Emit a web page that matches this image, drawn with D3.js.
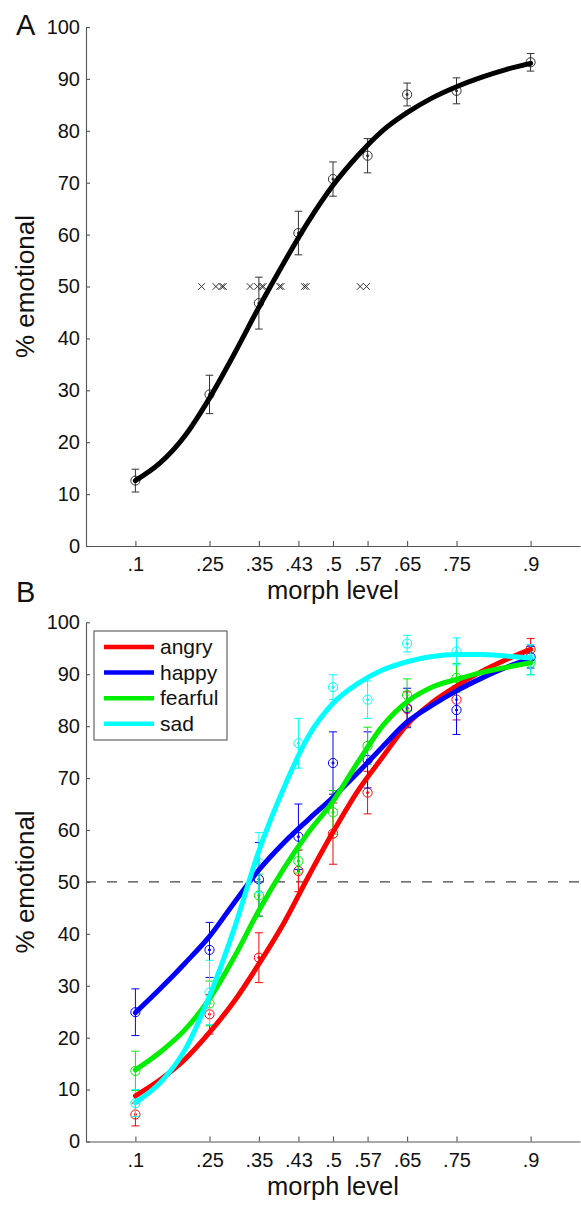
<!DOCTYPE html>
<html>
<head>
<meta charset="utf-8">
<script src="https://cdn.jsdelivr.net/npm/d3@7"></script>
<style>
  body { margin: 0; background: #fff; }
  text { font-family: "Liberation Sans", Arial, Helvetica, sans-serif; fill: #111; }
  .axis path, .axis line { stroke: #555; stroke-width: 1.1; }
  .axis text { font-size: 20px; fill: #111; }
</style>
</head>
<body>
<svg id="chart" width="581" height="1205"></svg>
<script>
// morph levels and tick labels
var levels = [0.1, 0.25, 0.35, 0.43, 0.5, 0.57, 0.65, 0.75, 0.9];
var levelLabels = ['.1', '.25', '.35', '.43', '.5', '.57', '.65', '.75', '.9'];
var yTicks = [0, 10, 20, 30, 40, 50, 60, 70, 80, 90, 100];

// panel A: all emotions pooled
var allMean = [12.6, 29.2, 46.8, 60.3, 70.7, 75.2, 87.0, 87.7, 93.2];
var allErr = [2.2, 3.7, 5.0, 4.2, 3.3, 3.3, 2.2, 2.5, 1.7];
// individual 50% thresholds (crosses)
var thresholds = [0.234, 0.263, 0.275, 0.278, 0.332, 0.347, 0.356, 0.359,
  0.392, 0.395, 0.442, 0.446, 0.555, 0.568];

// fitted curves, sampled at fitX
var fitX = [0.1, 0.15, 0.2, 0.25, 0.3, 0.35, 0.4, 0.45, 0.5, 0.55, 0.6,
  0.65, 0.7, 0.75, 0.8, 0.85, 0.9];
var allFit = [12.6, 16.0, 21.2, 28.5, 37, 46, 54.5, 62.5, 69.5, 75.2, 80,
  83.5, 86.3, 88.5, 90.3, 91.8, 93.0];

// panel B: per emotion
var emotions = ['angry', 'happy', 'fearful', 'sad'];
var emotionColors = ['#ff0000', '#0000ff', '#00ee00', '#00ffff'];

var angryMean = [5.2, 24.5, 35.4, 52.1, 59.3, 67.2, 83.3, 85.1, 94.8];
var angryErr = [2.2, 3.8, 4.8, 4.0, 5.9, 4.1, 3.3, 3.9, 2.1];
var happyMean = [24.9, 36.9, 50.5, 58.7, 72.9, 73.5, 83.5, 83.1, 93.3];
var happyErr = [4.5, 5.3, 7.1, 6.3, 6.0, 5.4, 3.8, 4.7, 2.1];
var fearfulMean = [13.6, 26.6, 47.4, 54.0, 63.4, 76.2, 86.0, 89.3, 92.2];
var fearfulErr = [3.8, 4.3, 4.1, 2.3, 4.2, 3.6, 3.1, 2.8, 2.3];
var sadMean = [7.4, 28.7, 53.7, 76.7, 87.5, 85.1, 95.9, 94.4, 92.8];
var sadErr = [2.6, 6.2, 5.8, 4.8, 2.4, 3.6, 1.6, 2.6, 2.9];

var angryFit = [8.8, 11.9, 15.8, 21.0, 27, 34.2, 42, 51, 59.6, 67.5, 74,
  80.3, 84.5, 87.7, 90.5, 92.8, 94.8];
var happyFit = [24.8, 29.4, 34.3, 39.5, 46, 52.3, 57.5, 62, 66.3, 71, 76,
  80.8, 84, 86.8, 89.2, 91.3, 93.0];
var fearfulFit = [13.8, 17.2, 21.5, 27.5, 35.5, 44.5, 52.5, 59.5, 65.5, 73, 80,
  84.7, 87.5, 89, 90.3, 91.3, 92.2];
var sadFit = [7.5, 11.3, 17.6, 28, 41, 56, 68, 78, 84.4, 88.2, 90.8,
  92.4, 93.4, 93.8, 93.8, 93.5, 93.1];

var emoMeans = [angryMean, happyMean, fearfulMean, sadMean];
var emoErrs = [angryErr, happyErr, fearfulErr, sadErr];
var emoFits = [angryFit, happyFit, fearfulFit, sadFit];

var svg = d3.select('#chart');

var x = d3.scaleLinear().domain([0, 1]).range([86, 580]);

function drawAxes(y, letter, letterY) {
  var g = svg.append('g');

  g.append('g')
    .attr('class', 'axis')
    .attr('transform', 'translate(' + x(0) + ',0)')
    .call(d3.axisLeft(y).tickValues(yTicks).tickSizeInner(-4).tickSizeOuter(0).tickPadding(6));

  g.append('g')
    .attr('class', 'axis')
    .attr('transform', 'translate(0,' + y(0) + ')')
    .call(d3.axisBottom(x)
      .tickValues(levels)
      .tickFormat(function(d, i) { return levelLabels[i]; })
      .tickSizeInner(-5).tickSizeOuter(0).tickPadding(11));

  g.append('text')
    .attr('transform', 'translate(34,' + (y(0) + y(100)) / 2 + ') rotate(-90)')
    .attr('text-anchor', 'middle')
    .style('font-size', '26px')
    .text('% emotional');

  g.append('text')
    .attr('x', (x(0) + x(1)) / 2)
    .attr('y', y(0) + 53)
    .attr('text-anchor', 'middle')
    .style('font-size', '25.5px')
    .text('morph level');

  g.append('text')
    .attr('x', 16)
    .attr('y', letterY)
    .style('font-size', '29px')
    .text(letter);
  return g;
}

function drawPoints(g, y, means, errs, color, cap) {
  var pts = g.append('g').attr('stroke', color).attr('fill', 'none').attr('stroke-width', 1);
  levels.forEach(function(m, i) {
    var cx = x(m), lo = y(means[i] - errs[i]), hi = y(means[i] + errs[i]);
    pts.append('line').attr('x1', cx).attr('x2', cx).attr('y1', lo).attr('y2', hi);
    pts.append('line').attr('x1', cx - cap).attr('x2', cx + cap).attr('y1', lo).attr('y2', lo);
    pts.append('line').attr('x1', cx - cap).attr('x2', cx + cap).attr('y1', hi).attr('y2', hi);
    pts.append('circle').attr('cx', cx).attr('cy', y(means[i])).attr('r', 4.6);
    pts.append('circle').attr('cx', cx).attr('cy', y(means[i])).attr('r', 1.1)
      .attr('fill', color);
  });
}

function drawFit(g, y, fit, color) {
  var line = d3.line()
    .x(function(d, i) { return x(fitX[i]); })
    .y(function(d) { return y(d); })
    .curve(d3.curveMonotoneX);
  g.append('path')
    .datum(fit)
    .attr('d', line)
    .attr('fill', 'none')
    .attr('stroke', color)
    .attr('stroke-width', 5)
    .attr('stroke-linecap', 'round');
}

// ---------- panel A ----------
var yA = d3.scaleLinear().domain([0, 100]).range([546, 27]);
var gA = drawAxes(yA, 'A', 35);

drawPoints(gA, yA, allMean, allErr, '#333', 3.8);

gA.selectAll('.thr')
  .data(thresholds)
  .enter()
  .append('path')
  .attr('class', 'thr')
  .attr('transform', function(d) { return 'translate(' + x(d) + ',' + yA(50) + ')'; })
  .attr('d', 'M-3.3,-3.3L3.3,3.3M-3.3,3.3L3.3,-3.3')
  .attr('stroke', '#333')
  .attr('stroke-width', 1);

drawFit(gA, yA, allFit, '#000');

// ---------- panel B ----------
var yB = d3.scaleLinear().domain([0, 100]).range([1141.5, 622.3]);
var gB = drawAxes(yB, 'B', 602);

gB.append('line')
  .attr('x1', x(0)).attr('x2', x(1))
  .attr('y1', yB(50)).attr('y2', yB(50))
  .attr('stroke', '#444')
  .attr('stroke-width', 1.1)
  .attr('stroke-dasharray', '10,11');

emotions.forEach(function(e, k) {
  drawPoints(gB, yB, emoMeans[k], emoErrs[k], emotionColors[k], 4);
});
emotions.forEach(function(e, k) {
  drawFit(gB, yB, emoFits[k], emotionColors[k]);
});

// legend
var leg = gB.append('g').attr('transform', 'translate(94,631)');
leg.append('rect')
  .attr('width', 133).attr('height', 109)
  .attr('fill', '#fff')
  .attr('stroke', '#555')
  .attr('stroke-width', 1.1);
emotions.forEach(function(e, k) {
  var ly = 16 + k * 25.6;
  leg.append('line')
    .attr('x1', 10).attr('x2', 60)
    .attr('y1', ly).attr('y2', ly)
    .attr('stroke', emotionColors[k])
    .attr('stroke-width', 4.5);
  leg.append('text')
    .attr('x', 66)
    .attr('y', ly + 7)
    .style('font-size', '21px')
    .text(e);
});
</script>
</body>
</html>
